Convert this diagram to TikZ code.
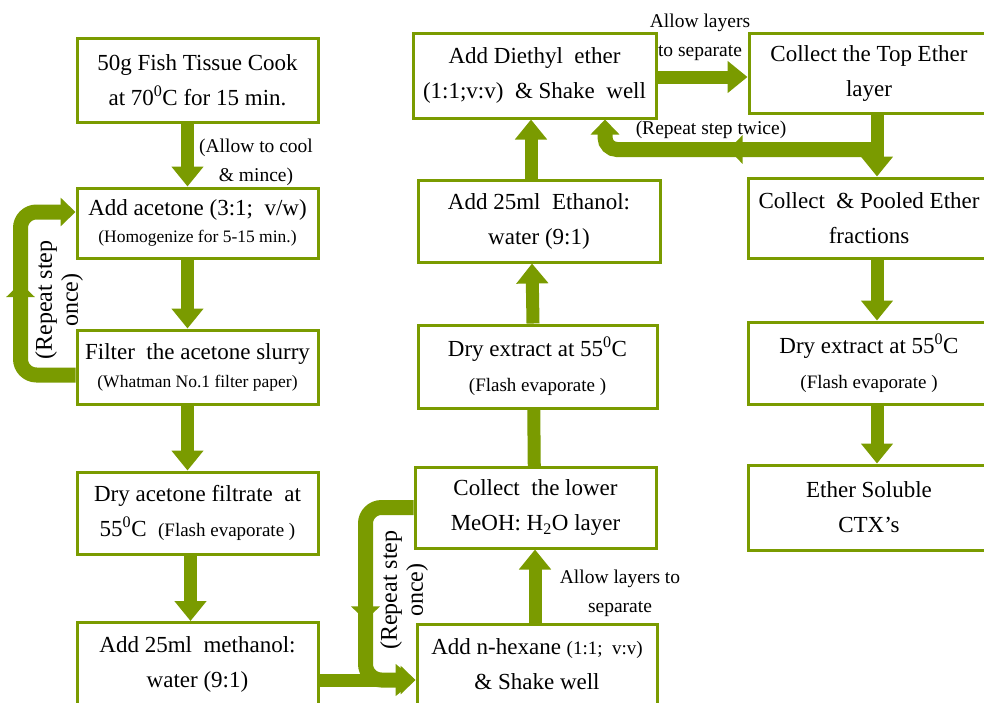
\documentclass[tikz,border=0pt]{standalone}
\usepackage{fontspec}
\setmainfont{Liberation Serif}
\usetikzlibrary{arrows.meta,backgrounds,decorations.markings}
\definecolor{leaf}{RGB}{122,155,0}

% smaller second-line text inside boxes
\newcommand\sm[1]{{\fontsize{17.5}{20}\selectfont #1}}
% flash-evaporate style notes
\newcommand\fl[1]{{\fontsize{19}{22}\selectfont #1}}

\tikzset{
  stepbox/.style={draw=leaf, line width=3pt, fill=white, align=center,
    inner sep=0pt, font=\fontsize{23}{35}\selectfont},
  flow/.style={draw=leaf, line width=13pt,
    -{Triangle[width=31pt,length=20pt]}},
  band/.style={draw=leaf, line width=15pt, rounded corners=16pt,
    -{Triangle[width=28pt,length=15pt]}},
  midtip/.style={postaction={decorate}, decoration={markings,
    mark=at position #1 with {\arrow{Triangle[width=28pt,length=14pt]}}}},
  note/.style={align=center, font=\fontsize{19.5}{29}\selectfont},
  sidenote/.style={align=center, rotate=90, font=\fontsize{24}{26}\selectfont},
}

\begin{document}
\begin{tikzpicture}[x=1pt,y=-1pt]
\useasboundingbox (0,0) rectangle (984,702);
\clip (0,0) rectangle (984,702);

% ---- left column ----
\node[stepbox, minimum width=241pt, minimum height=84pt] (b1) at (197.5,80)
  {50g Fish Tissue Cook\\at 70\textsuperscript{0}C for 15 min.};
\node[stepbox, minimum width=241pt, minimum height=70pt] (b2) at (197.5,223)
  {Add acetone (3:1;\ \ v/w)\\[-8pt]\sm{(Homogenize for 5-15 min.)}};
\node[stepbox, minimum width=241pt, minimum height=74pt] (b3) at (197.5,367)
  {Filter\ \ the acetone slurry\\[-7pt]\sm{(Whatman No.1 filter paper)}};
\node[stepbox, minimum width=241pt, minimum height=82pt] (b4) at (197.5,513)
  {Dry acetone filtrate\ \ at\\55\textsuperscript{0}C\ \ \fl{(Flash evaporate )}};
\node[stepbox, minimum width=241pt, minimum height=83pt] (b5) at (197.5,664)
  {Add 25ml\ \ methanol:\\water (9:1)};

% ---- middle column ----
\node[stepbox, minimum width=240pt, minimum height=80pt] (m1) at (537,664)
  {Add n-hexane \fl{(1:1;\ \ v:v)}\\\& Shake well};
\node[stepbox, minimum width=241pt, minimum height=81pt] (m2) at (535.5,507.5)
  {Collect\ \ the lower\\MeOH: H\textsubscript{2}O layer};
\node[stepbox, minimum width=239pt, minimum height=83pt] (m3) at (537.5,366.5)
  {Dry extract at 55\textsuperscript{0}C\\\fl{(Flash evaporate )}};
\node[stepbox, minimum width=242pt, minimum height=82pt] (m4) at (539,221)
  {Add 25ml\ \ Ethanol:\\water (9:1)};
\node[stepbox, minimum width=243pt, minimum height=85pt] (m5) at (534.5,75.5)
  {Add Diethyl\ \ ether\\(1:1;v:v)\ \ \& Shake\ \ well};

% ---- right column ----
\node[stepbox, minimum width=240pt, minimum height=80pt] (r1) at (869,73)
  {Collect the Top Ether\\layer};
\node[stepbox, minimum width=242pt, minimum height=80pt] (r2) at (869,218)
  {Collect\ \ \& Pooled Ether\\fractions};
\node[stepbox, minimum width=242pt, minimum height=82pt] (r3) at (869,363)
  {Dry extract at 55\textsuperscript{0}C\\\fl{(Flash evaporate )}};
\node[stepbox, minimum width=242pt, minimum height=85pt] (r4) at (869,507.5)
  {Ether Soluble\\CTX’s};

% ---- labels ----
\node[note] (cool) at (256,162) {(Allow to cool\\\& mince)};
\node[note] (sepa) at (700,37) {Allow layers\\to separate};
\node[note] (sepb) at (620,593) {Allow layers to\\separate};
\node[note] (twice) at (711,130) {(Repeat step twice)};
\node[sidenote] (repa) at (59,300) {(Repeat step\\once)};
\node[sidenote] (repb) at (404,590) {(Repeat step\\once)};

\begin{scope}[on background layer]
  % left column, downwards
  \draw[flow] ([xshift=-10pt]b1.south) -- ([xshift=-10pt]b2.north);
  \draw[flow] ([xshift=-10pt]b2.south) -- ([xshift=-10pt]b3.north);
  \draw[flow] ([xshift=-10pt]b3.south) -- ([xshift=-10pt]b4.north);
  \draw[flow] ([xshift=-7pt]b4.south) -- ([xshift=-7pt]b5.north);
  % repeat loop filter -> acetone
  \draw[band, midtip=0.54] ([yshift=-8pt]b3.west) -- ++(-55,0)
     |- ([yshift=11pt]b2.west);
  % across to n-hexane
  \draw[flow] ([yshift=-16pt]b5.east) -- ([yshift=-16pt]m1.west);
  % repeat loop lower layer -> n-hexane
  \draw[band, midtip=0.6] (m2.west) -- ++(-48,0)
     |- ([yshift=-16pt]m1.west);
  % middle column, upwards
  \draw[flow] ([xshift=-2pt]m1.north) -- ([xshift=-0.5pt]m2.south);
  \draw[flow] ([xshift=-0.5pt]m2.south) -- ([xshift=-4.5pt]m3.north);
  \draw[flow] ([xshift=-4.5pt]m3.north) -- ([xshift=-7pt]m4.south);
  \draw[flow] ([xshift=-8pt]m4.north) -- ([xshift=-3.5pt]m5.south);
  % top across
  \draw[flow] ([yshift=-1.5pt]m5.east) -- ([yshift=-4pt]r1.west);
  % right column, downwards
  \draw[flow] ([xshift=8pt]r1.south) -- ([xshift=8pt]r2.north);
  \draw[flow] ([xshift=8pt]r2.south) -- ([xshift=8pt]r3.north);
  \draw[flow] ([xshift=8pt]r3.south) -- ([xshift=8pt]r4.north);
  % repeat loop back to diethyl ether
  \draw[band, rounded corners=12pt, midtip=0.5]
     ([xshift=8pt,yshift=-35pt]r1.south) -| ([xshift=70.5pt]m5.south);
\end{scope}
\end{tikzpicture}
\end{document}
